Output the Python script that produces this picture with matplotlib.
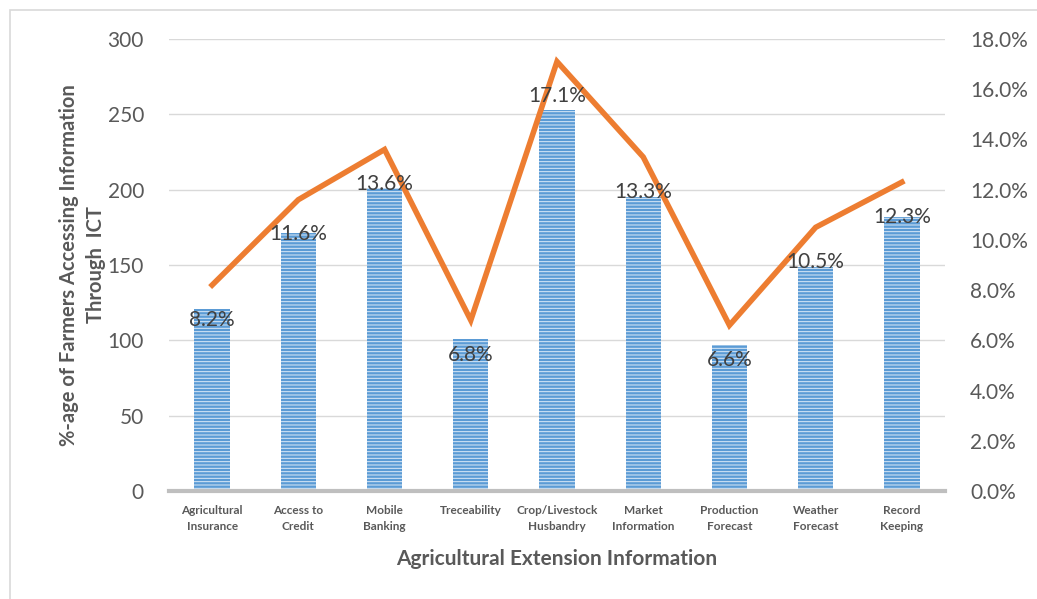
import matplotlib
matplotlib.use("Agg")
import matplotlib.pyplot as plt
from matplotlib.patches import Rectangle
from matplotlib.ticker import FuncFormatter, MultipleLocator

categories = ["Agricultural\nInsurance", "Access to\nCredit", "Mobile\nBanking",
              "Treceability", "Crop/Livestock\nHusbandry", "Market\nInformation",
              "Production\nForecast", "Weather\nForecast", "Record\nKeeping"]
farmers = [121, 171, 201, 101, 253, 195, 97, 149, 182]
share_pct = [8.2, 11.6, 13.6, 6.8, 17.1, 13.3, 6.6, 10.5, 12.3]

plt.rcParams["font.family"] = ["Lato", "DejaVu Sans"]
plt.rcParams["hatch.linewidth"] = 0.7

text_grey = "#595959"
bar_blue = "#5B9BD5"
line_orange = "#ED7D31"

fig = plt.figure(figsize=(10.37, 5.99), dpi=100)
ax = fig.add_axes([169 / 1037, 1 - 491 / 599, (945 - 169) / 1037, (491 - 39) / 599])

# outer frame (left and top edges visible)
fig.patches.append(Rectangle((10 / 1037, -0.1), 1.2, 1 - 10 / 599 + 0.1,
                             transform=fig.transFigure, fill=False,
                             edgecolor="#D9D9D9", linewidth=1.2))

x = list(range(len(categories)))
ax.bar(x, farmers, width=0.41, color=bar_blue, edgecolor="#DCEAF8",
       linewidth=0, hatch="-----", zorder=2)

ax.set_ylim(0, 300)
ax.set_xlim(-0.5, len(categories) - 0.5)
ax.yaxis.set_major_locator(MultipleLocator(50))
ax.grid(axis="y", color="#D9D9D9", linewidth=1.0, zorder=0)
ax.set_axisbelow(True)
for side in ["top", "right", "left"]:
    ax.spines[side].set_visible(False)
ax.spines["bottom"].set_color("#BFBFBF")
ax.spines["bottom"].set_linewidth(3)
ax.tick_params(axis="both", length=0)
ax.tick_params(axis="y", labelsize=15, labelcolor=text_grey, pad=18)
ax.set_xticks(x)
ax.set_xticklabels(categories, fontsize=8.5, fontweight="bold", color=text_grey,
                   linespacing=1.55)
ax.tick_params(axis="x", pad=10)

ax.set_xlabel("Agricultural Extension Information", fontsize=15,
              fontweight="bold", color=text_grey, labelpad=12)
ax.set_ylabel("%-age of Farmers Accessing Information\nThrough  ICT", fontsize=14.5,
              fontweight="bold", color=text_grey, labelpad=1, linespacing=1.45)

ax2 = ax.twinx()
ax2.plot(x, share_pct, color=line_orange, linewidth=4, solid_joinstyle="miter",
         zorder=3)
ax2.set_ylim(0, 18)
ax2.yaxis.set_major_locator(MultipleLocator(2))
ax2.yaxis.set_major_formatter(FuncFormatter(lambda v, _: f"{v:.1f}%"))
ax2.tick_params(axis="y", length=0, labelsize=15, labelcolor=text_grey, pad=18)
for side in ["top", "right", "left", "bottom"]:
    ax2.spines[side].set_visible(False)

for xi, p in zip(x, share_pct):
    ax2.annotate(f"{p:.1f}%", (xi, p), xytext=(0, -25), textcoords="offset points",
                 ha="center", va="center", fontsize=15, color="#404040", zorder=4)

fig.savefig("out.png", dpi=100)
